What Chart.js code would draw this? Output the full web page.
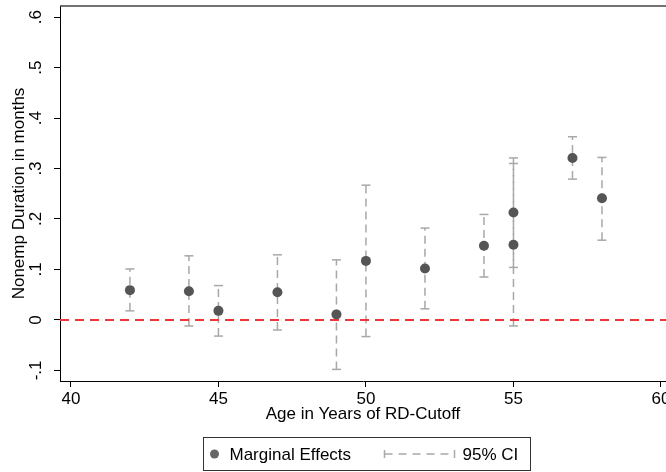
<!DOCTYPE html>
<html>
<head>
<meta charset="utf-8">
<script src="https://cdn.jsdelivr.net/npm/chart.js@4/dist/chart.umd.min.js"></script>
<style>
  html, body { margin: 0; padding: 0; background: #fff; overflow: hidden; }
  #wrap { width: 666px; height: 472px; position: relative; }
</style>
</head>
<body>
<div id="wrap"><canvas id="chart"></canvas></div>
<script>
// Data
const ages      = [42, 44, 45, 47, 49, 50, 52, 54, 55, 55, 57, 58];
const effects   = [0.059, 0.057, 0.018, 0.055, 0.011, 0.117, 0.102, 0.147, 0.213, 0.149, 0.321, 0.241];
const ciLow     = [0.018, -0.012, -0.032, -0.020, -0.098, -0.033, 0.022, 0.085, 0.104, -0.012, 0.279, 0.158];
const ciHigh    = [0.101, 0.127, 0.068, 0.129, 0.119, 0.267, 0.182, 0.209, 0.321, 0.310, 0.363, 0.322];
const xTicks    = [40, 45, 50, 55, 60];
const yTicks    = [-0.1, 0, 0.1, 0.2, 0.3, 0.4, 0.5, 0.6];
const xRange    = [39.63, 60.17];
const yRange    = [-0.121, 0.622];

const FONT = "'Liberation Sans', Arial, Helvetica, sans-serif";
const CI_GRAY = '#a8a8a8';
const DOT_GRAY = '#555555';

// Stata-like number labels: .6, -.1, 0
const stataNum = v => {
    if (Math.abs(v) < 1e-9) return '0';
    const s = (Math.round(v * 10) / 10).toString();
    return s.replace(/^(-?)0\./, '$1.');
};

// one line dataset per confidence interval, caps drawn as 'line' points
const ciSets = ages.map((a, i) => ({
    type: 'line',
    data: [{ x: a, y: ciLow[i] }, { x: a, y: ciHigh[i] }],
    borderColor: CI_GRAY,
    borderWidth: 1.5,
    borderDash: [8, 5],
    pointStyle: 'line',
    pointRadius: 4.5,
    pointBorderColor: CI_GRAY,
    pointBorderWidth: 1.5,
    fill: false,
    order: 3
}));

const zeroLine = {
    type: 'line',
    data: [{ x: xRange[0], y: 0 }, { x: xRange[1], y: 0 }],
    borderColor: '#f23535',
    borderWidth: 2,
    borderDash: [9, 6],
    pointRadius: 0,
    order: 2
};

const pointSet = {
    type: 'scatter',
    data: ages.map((a, i) => ({ x: a, y: effects[i] })),
    backgroundColor: DOT_GRAY,
    borderColor: DOT_GRAY,
    pointRadius: 5,
    borderWidth: 0,
    order: 1
};

// top frame line and the legend box under the plot
const framePlugin = {
    id: 'frame',
    afterDraw(chart) {
        const { ctx, chartArea: ca } = chart;
        ctx.save();
        ctx.strokeStyle = '#444';
        ctx.lineWidth = 1.5;
        ctx.beginPath();
        ctx.moveTo(ca.left, ca.top);
        ctx.lineTo(ca.right, ca.top);
        ctx.stroke();

        // legend
        const bx = 203.5, by = 437.5, bw = 327, bh = 33;
        ctx.strokeStyle = '#333';
        ctx.lineWidth = 1;
        ctx.strokeRect(bx, by, bw, bh);
        const cy = by + bh / 2;
        ctx.fillStyle = '#666';
        ctx.beginPath();
        ctx.arc(bx + 11, cy, 4.5, 0, Math.PI * 2);
        ctx.fill();
        ctx.fillStyle = '#000';
        ctx.font = '17px ' + FONT;
        ctx.textBaseline = 'middle';
        ctx.textAlign = 'left';
        ctx.fillText('Marginal Effects', bx + 26, cy + 1);
        ctx.fillText('95% CI', bx + 259, cy + 1);
        // CI symbol
        const x0 = bx + 181, x1 = bx + 251;
        ctx.strokeStyle = CI_GRAY;
        ctx.lineWidth = 1.5;
        ctx.setLineDash([8, 6]);
        ctx.beginPath();
        ctx.moveTo(x0, cy);
        ctx.lineTo(x1, cy);
        ctx.stroke();
        ctx.setLineDash([]);
        ctx.beginPath();
        ctx.moveTo(x0, cy - 4); ctx.lineTo(x0, cy + 4);
        ctx.moveTo(x1, cy - 4); ctx.lineTo(x1, cy + 4);
        ctx.stroke();
        ctx.restore();
    }
};

new Chart(document.getElementById('chart'), {
    data: { datasets: [...ciSets, zeroLine, pointSet] },
    options: {
        responsive: true,
        maintainAspectRatio: false,
        animation: false,
        layout: { autoPadding: false, padding: { top: 6, left: 0, right: 0, bottom: 39 } },
        plugins: { legend: { display: false }, tooltip: { enabled: false } },
        scales: {
            x: {
                type: 'linear',
                min: xRange[0],
                max: xRange[1],
                afterBuildTicks: s => { s.ticks = xTicks.map(v => ({ value: v })); },
                afterFit: s => { s.height = 52; s.paddingLeft = 0; s.paddingRight = 0; },
                grid: { drawOnChartArea: false, drawTicks: true, tickLength: 6, color: '#000' },
                border: { display: true, color: '#000', width: 1 },
                ticks: { color: '#000', font: { family: FONT, size: 17 }, padding: 2, maxRotation: 0 },
                title: {
                    display: true, text: 'Age in Years of RD-Cutoff', color: '#000',
                    font: { family: FONT, size: 17 }, padding: { top: 0, bottom: 8 }
                }
            },
            y: {
                type: 'linear',
                min: yRange[0],
                max: yRange[1],
                afterBuildTicks: s => { s.ticks = yTicks.map(v => ({ value: v })); },
                afterFit: s => { s.width = 60; s.paddingTop = 0; s.paddingBottom = 0; },
                grid: { drawOnChartArea: false, drawTicks: true, tickLength: 6, color: '#000' },
                border: { display: true, color: '#000', width: 1 },
                ticks: {
                    color: '#000', font: { family: FONT, size: 17 }, padding: 8,
                    minRotation: 90, maxRotation: 90, crossAlign: 'center',
                    callback: v => stataNum(v)
                },
                title: {
                    display: true, text: 'Nonemp Duration in months', color: '#000',
                    font: { family: FONT, size: 17 }, padding: { top: 9, bottom: 0 }
                }
            }
        }
    },
    plugins: [framePlugin]
});
</script>
</body>
</html>
